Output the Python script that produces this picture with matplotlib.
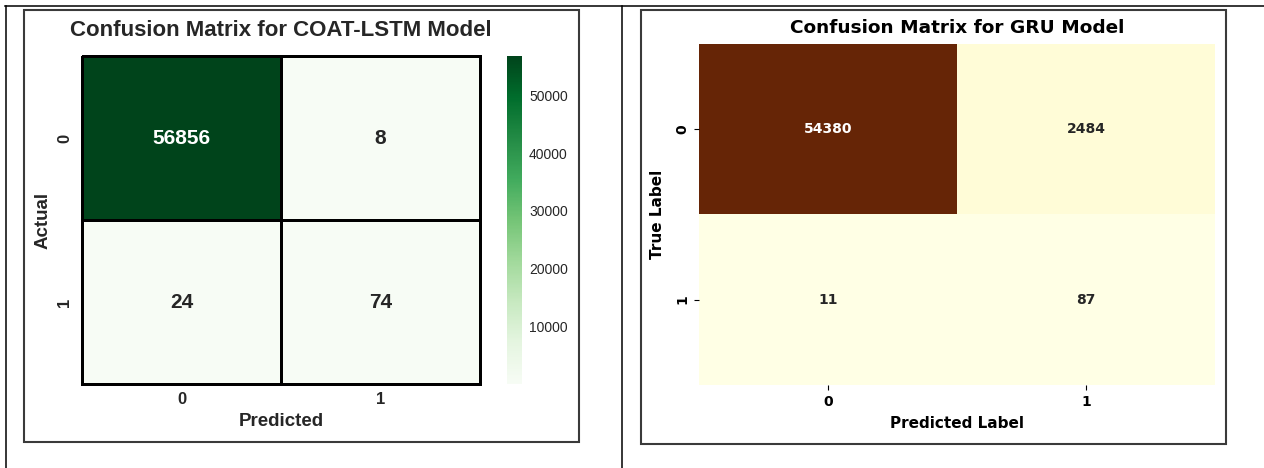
import matplotlib
matplotlib.use("Agg")
import matplotlib.pyplot as plt
from matplotlib.lines import Line2D
from matplotlib.patches import Rectangle
import numpy as np

# Confusion matrices (rows = actual, columns = predicted)
class_labels = ["0", "1"]
coat_lstm_cm = [[56856, 8],
                [24, 74]]
gru_cm = [[54380, 2484],
          [11, 87]]
colorbar_ticks = [10000, 20000, 30000, 40000, 50000]

W, H = 1264, 468
fig = plt.figure(figsize=(W / 100, H / 100), dpi=100)
fig.patch.set_facecolor("white")


def fx(x):
    return x / W


def fy(y):
    return 1 - y / H


def px_axes(left, top, right, bottom):
    return fig.add_axes([fx(left), fy(bottom), (right - left) / W, (bottom - top) / H])


# Table grid and framed panels
for xs, ys in [((5, W), (6, 6)), ((6, 6), (6, H)), ((622, 622), (6, H))]:
    fig.add_artist(Line2D([fx(x) for x in xs], [fy(y) for y in ys],
                          transform=fig.transFigure, color="black", lw=1.1))
for (l, t, r, b) in [(24, 10, 579, 442), (641, 10, 1226, 444)]:
    fig.add_artist(Rectangle((fx(l), fy(b)), (r - l) / W, (b - t) / H,
                             transform=fig.transFigure, fill=False,
                             edgecolor="#3a3a3a", lw=1.5))

# ---------------- COAT-LSTM panel ----------------
arial = ["Liberation Sans", "DejaVu Sans"]
dark = "#262626"
cm1 = np.array(coat_lstm_cm)
ax1 = px_axes(82, 56, 480, 384)
mesh1 = ax1.pcolormesh(cm1, cmap="Greens", vmin=cm1.min(), vmax=cm1.max(),
                       edgecolors="black", linewidth=1.8)
mesh1.set_clip_on(False)
ax1.set_xlim(0, 2)
ax1.set_ylim(2, 0)
for s in ax1.spines.values():
    s.set_visible(False)
ax1.set_xticks([0.5, 1.5])
ax1.set_yticks([0.5, 1.5])
ax1.set_xticklabels(class_labels, family=arial, fontsize=12, fontweight="bold", color=dark)
ax1.set_yticklabels(class_labels, family=arial, fontsize=12, fontweight="bold", color=dark,
                    rotation=90, va="center")
ax1.tick_params(axis="both", length=0)
ax1.tick_params(axis="x", pad=6)
ax1.tick_params(axis="y", pad=7)
norm1 = mesh1.norm
cmap1 = mesh1.cmap
for i in range(2):
    for j in range(2):
        v = cm1[i, j]
        rgba = cmap1(norm1(v))
        lum = 0.2126 * rgba[0] + 0.7152 * rgba[1] + 0.0722 * rgba[2]
        ax1.text(j + 0.5, i + 0.5, f"{v:d}", ha="center", va="center",
                 family=arial, fontsize=15, fontweight="bold",
                 color="white" if lum < 0.408 else dark)
ax1.set_xlabel("Predicted", family=arial, fontsize=13.5, fontweight="bold", color=dark)
ax1.set_ylabel("Actual", family=arial, fontsize=13.5, fontweight="bold", color=dark)
ax1.xaxis.set_label_coords(0.5, -(421 - 384) / (384 - 56))
ax1.xaxis.label.set_va("center")
ax1.yaxis.set_label_coords(-(82 - 43) / (480 - 82), 0.5)
ax1.yaxis.label.set_va("center")
fig.text(fx(281), fy(30), "Confusion Matrix for COAT-LSTM Model", ha="center", va="center",
         family=arial, fontsize=16, fontweight="bold", color=dark)

cax = px_axes(507, 56, 522, 384)
cb = fig.colorbar(mesh1, cax=cax)
cb.outline.set_visible(False)
cb.set_ticks(colorbar_ticks)
cax.tick_params(length=0, pad=5)
for lbl in cax.get_yticklabels():
    lbl.set_family(arial)
    lbl.set_fontsize(10)
    lbl.set_color(dark)

# ---------------- GRU panel ----------------
cm2 = np.array(gru_cm)
ax2 = px_axes(699, 43.5, 1215, 385)
mesh2 = ax2.pcolormesh(cm2, cmap="YlOrBr", vmin=cm2.min(), vmax=cm2.max())
ax2.set_xlim(0, 2)
ax2.set_ylim(2, 0)
for s in ax2.spines.values():
    s.set_visible(False)
ax2.set_xticks([0.5, 1.5])
ax2.set_yticks([0.5, 1.5])
ax2.set_xticklabels(class_labels, fontsize=10, fontweight="bold")
ax2.set_yticklabels(class_labels, fontsize=10, fontweight="bold", rotation=90, va="center")
ax2.tick_params(axis="both", length=3.5, width=0.8)
norm2 = mesh2.norm
cmap2 = mesh2.cmap
for i in range(2):
    for j in range(2):
        v = cm2[i, j]
        rgba = cmap2(norm2(v))
        lum = 0.2126 * rgba[0] + 0.7152 * rgba[1] + 0.0722 * rgba[2]
        ax2.text(j + 0.5, i + 0.5, f"{v:d}", ha="center", va="center",
                 fontsize=10, fontweight="bold",
                 color="white" if lum < 0.408 else dark)
ax2.set_xlabel("Predicted Label", fontsize=11, fontweight="bold")
ax2.set_ylabel("True Label", fontsize=11, fontweight="bold")
ax2.xaxis.set_label_coords(0.5, -(424 - 385) / (385 - 43.5))
ax2.xaxis.label.set_va("center")
ax2.yaxis.set_label_coords(-(699 - 658) / (1215 - 699), 0.5)
ax2.yaxis.label.set_va("center")
fig.text(fx(957), fy(28), "Confusion Matrix for GRU Model", ha="center", va="center",
         fontsize=13.3, fontweight="bold")

fig.savefig("out.png", dpi=100, facecolor="white")
